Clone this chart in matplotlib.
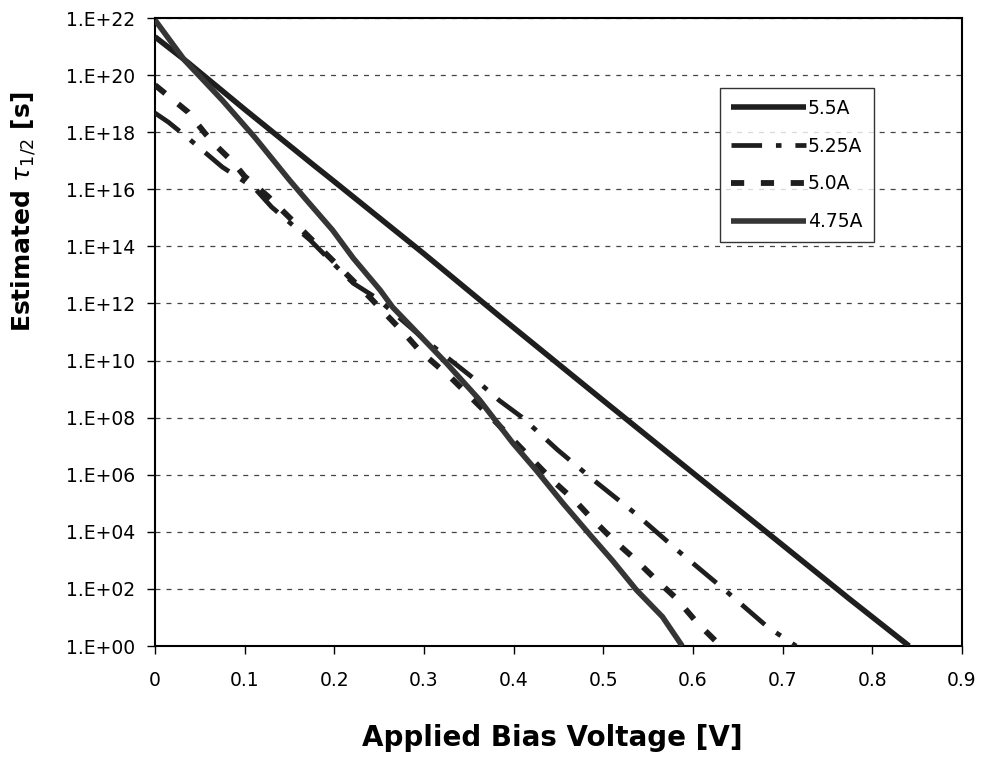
import matplotlib
matplotlib.use("Agg")
import matplotlib.pyplot as plt
import numpy as np

plt.rcParams['font.family'] = ['DejaVu Sans']
plt.rcParams['lines.scale_dashes'] = False

# ---- data (x = applied bias voltage [V], y = log10 of estimated half-life [s]) ----
x_55 = [0.0, 0.036, 0.1, 0.178, 0.198, 0.3, 0.384, 0.496, 0.604, 0.682, 0.774, 0.841]
y_55 = [21.34, 20.46, 18.80, 16.82, 16.32, 13.74, 11.56, 8.70, 5.96, 3.99, 1.66, 0.0]

x_525 = [0.0, 0.015, 0.037, 0.075, 0.111, 0.130, 0.173, 0.195, 0.221, 0.247, 0.300,
         0.362, 0.384, 0.409, 0.449, 0.492, 0.535, 0.585, 0.633, 0.683, 0.715]
y_525 = [18.67, 18.35, 17.79, 16.78, 16.04, 15.38, 14.22, 13.52, 12.71, 12.19, 10.75,
         9.21, 8.60, 8.02, 6.87, 5.74, 4.66, 3.29, 2.03, 0.67, 0.0]

x_50 = [0.0, 0.037, 0.056, 0.069, 0.087, 0.100, 0.126, 0.160, 0.200, 0.240, 0.281,
        0.295, 0.330, 0.380, 0.443, 0.470, 0.483, 0.510, 0.535, 0.557, 0.581, 0.605, 0.631]
y_50 = [19.65, 18.70, 17.95, 17.50, 16.95, 16.45, 15.75, 14.70, 13.45, 12.20, 10.85,
        10.35, 9.40, 7.85, 5.81, 5.04, 4.60, 3.75, 3.05, 2.38, 1.68, 0.80, 0.0]

x_475 = [0.0, 0.033, 0.075, 0.111, 0.150, 0.169, 0.198, 0.221, 0.251, 0.265, 0.325,
         0.362, 0.399, 0.425, 0.455, 0.485, 0.510, 0.537, 0.566, 0.588]
y_475 = [21.93, 20.52, 19.12, 17.83, 16.32, 15.62, 14.57, 13.59, 12.47, 11.87, 9.91,
         8.62, 7.11, 6.16, 5.00, 3.90, 3.00, 1.96, 1.02, 0.0]

series_labels = ['5.5A', '5.25A', '5.0A', '4.75A']

x_ticks = [0, 0.1, 0.2, 0.3, 0.4, 0.5, 0.6, 0.7, 0.8, 0.9]
x_tick_labels = ['0', '0.1', '0.2', '0.3', '0.4', '0.5', '0.6', '0.7', '0.8', '0.9']
y_tick_exps = [0, 2, 4, 6, 8, 10, 12, 14, 16, 18, 20, 22]
y_tick_labels = ['1.E+00', '1.E+02', '1.E+04', '1.E+06', '1.E+08', '1.E+10',
                 '1.E+12', '1.E+14', '1.E+16', '1.E+18', '1.E+20', '1.E+22']

x_label = 'Applied Bias Voltage [V]'
y_label = r'Estimated $\tau_{1/2}$ [s]'

# ---- figure ----
fig = plt.figure(figsize=(9.87, 7.62), dpi=100)
ax = fig.add_axes([155/987, (762-646)/762, (962-155)/987, (646-18)/762])

dark = '#1e1e1e'
ax.plot(x_55, 10.0**np.array(y_55), color=dark, lw=4.0, solid_capstyle='butt',
        label=series_labels[0], zorder=4)
ax.plot(x_525, 10.0**np.array(y_525), color=dark, lw=3.4,
        linestyle=(0, (22, 10, 4, 10)), label=series_labels[1], zorder=3)
ax.plot(x_50, 10.0**np.array(y_50), color=dark, lw=4.2,
        linestyle=(0, (9.5, 12)), label=series_labels[2], zorder=3)
ax.plot(x_475, 10.0**np.array(y_475), color='#353535', lw=4.0, solid_capstyle='butt',
        label=series_labels[3], zorder=4)

ax.set_yscale('log')
ax.set_xlim(0, 0.9)
ax.set_ylim(1e0, 1e22)
ax.set_xticks(x_ticks)
ax.set_xticklabels(x_tick_labels)
ax.set_yticks([10.0**e for e in y_tick_exps])
ax.set_yticklabels(y_tick_labels)
ax.yaxis.set_minor_locator(matplotlib.ticker.NullLocator())
ax.tick_params(axis='both', which='major', direction='out', length=6, width=1.0,
               labelsize=13.5, colors='black')
ax.tick_params(axis='x', pad=12)
ax.tick_params(axis='y', pad=8)

ax.yaxis.grid(True, which='major', color='#444444', lw=0.9, linestyle=(0, (3.6, 4.3)))
ax.set_axisbelow(True)
for s in ax.spines.values():
    s.set_color('black')
    s.set_linewidth(1.5)

ax.set_xlabel(x_label, fontsize=20, fontweight='bold')
ax.xaxis.set_label_coords(0.492, -0.146)
ax.xaxis.label.set_verticalalignment('center')
ax.set_ylabel(y_label, fontsize=18, fontweight='bold')
ax.yaxis.set_label_coords(-0.163, 0.691)
ax.yaxis.label.set_verticalalignment('center')

leg = ax.legend(loc='upper left', bbox_to_anchor=(0.700, 0.889), borderaxespad=0,
                fontsize=13.5, frameon=True, fancybox=False, handlelength=4.0,
                handletextpad=0.1, borderpad=0.6, labelspacing=1.0)
leg.get_frame().set_edgecolor('black')
leg.get_frame().set_linewidth(1.0)

fig.savefig('out.png', dpi=100)
